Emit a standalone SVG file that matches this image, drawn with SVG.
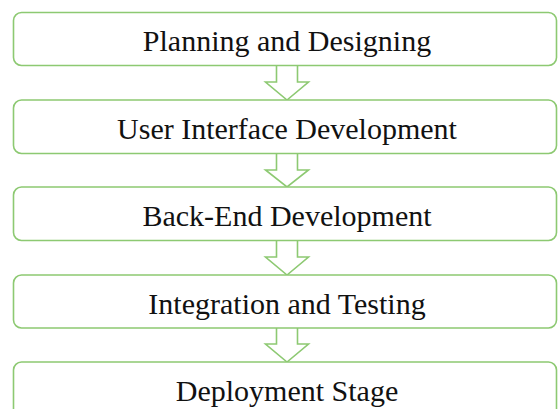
<svg xmlns="http://www.w3.org/2000/svg" width="558" height="409" viewBox="0 0 558 409">
<style>
.box{fill:#fff;stroke:#8dc972;stroke-width:1.6}
.arr{fill:#fff;stroke:#8dc972;stroke-width:1.6;stroke-linejoin:miter}
.lbl{font-family:"Liberation Serif","Times New Roman",serif;font-size:30px;fill:#111;text-anchor:middle}
</style>
<rect width="558" height="409" fill="#fff"/>
<g id="connectors">
<path class="arr" d="M276.5 65.5 V82 H265.5 L287 100 L308.5 82 H297.5 V65.5"/>
<path class="arr" d="M276.5 153.5 V170 H265.5 L287 187 L308.5 170 H297.5 V153.5"/>
<path class="arr" d="M276.5 240.5 V257 H265.5 L287 275 L308.5 257 H297.5 V240.5"/>
<path class="arr" d="M276.5 328 V344 H265.5 L287 362 L308.5 344 H297.5 V328"/>
</g>
<g id="n1"><rect class="box" x="13.5" y="12.5" width="543" height="53" rx="8"/><text class="lbl" x="287" y="51">Planning and Designing</text></g>
<g id="n2"><rect class="box" x="13.5" y="100" width="543" height="53.5" rx="8"/><text class="lbl" x="287" y="139">User Interface Development</text></g>
<g id="n3"><rect class="box" x="13.5" y="187" width="543" height="53.5" rx="8"/><text class="lbl" x="287" y="226">Back-End Development</text></g>
<g id="n4"><rect class="box" x="13.5" y="275" width="543" height="53" rx="8"/><text class="lbl" x="287" y="314">Integration and Testing</text></g>
<g id="n5"><rect class="box" x="13.5" y="362" width="543" height="60" rx="8"/><text class="lbl" x="287" y="401">Deployment Stage</text></g>
</svg>
